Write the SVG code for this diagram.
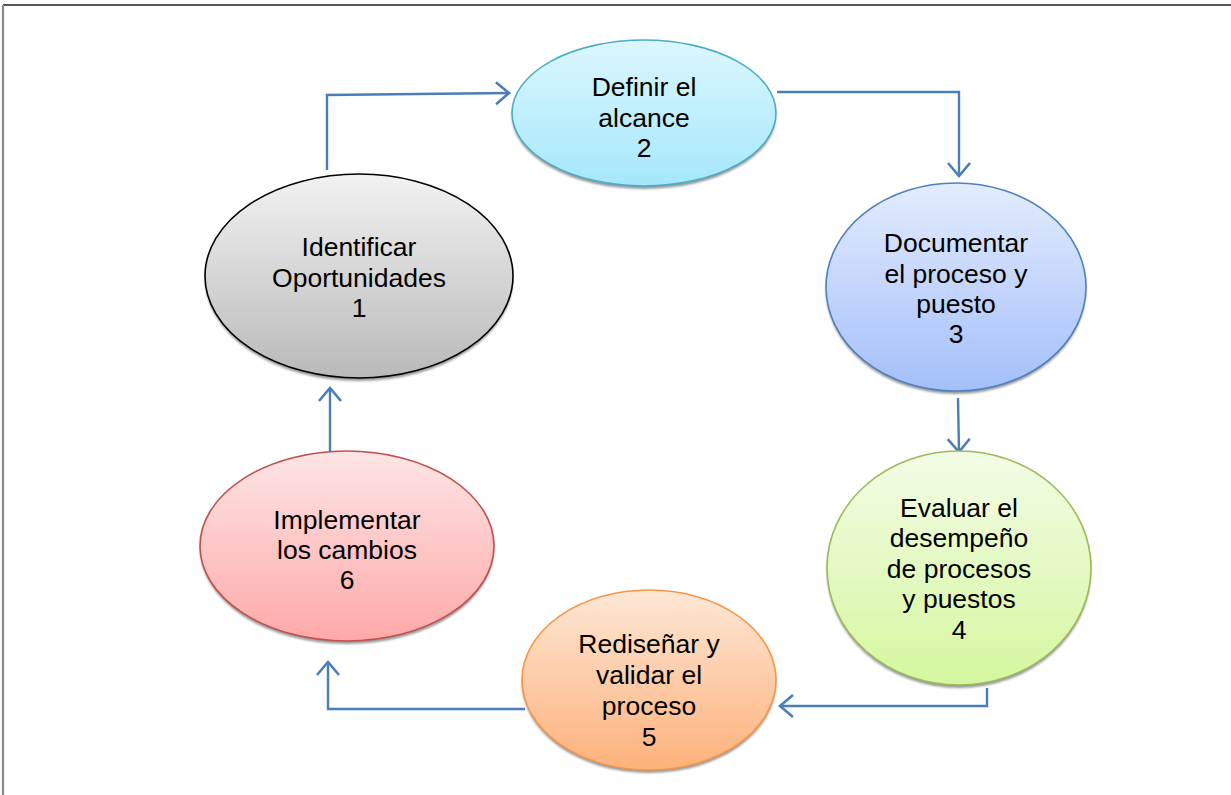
<svg xmlns="http://www.w3.org/2000/svg" width="1231" height="795" viewBox="0 0 1231 795">
  <defs>
    <linearGradient id="gGray" x1="0" y1="0" x2="0" y2="1">
      <stop offset="0" stop-color="#f2f2f2"/>
      <stop offset="1" stop-color="#b9b9b9"/>
    </linearGradient>
    <linearGradient id="gCyan" x1="0" y1="0" x2="0" y2="1">
      <stop offset="0" stop-color="#dcf7fe"/>
      <stop offset="1" stop-color="#a5e7fb"/>
    </linearGradient>
    <linearGradient id="gBlue" x1="0" y1="0" x2="0" y2="1">
      <stop offset="0" stop-color="#e3ecfd"/>
      <stop offset="1" stop-color="#a4bffa"/>
    </linearGradient>
    <linearGradient id="gGreen" x1="0" y1="0" x2="0" y2="1">
      <stop offset="0" stop-color="#f3fce6"/>
      <stop offset="1" stop-color="#d5f79f"/>
    </linearGradient>
    <linearGradient id="gOrange" x1="0" y1="0" x2="0" y2="1">
      <stop offset="0" stop-color="#fde7d6"/>
      <stop offset="1" stop-color="#fdb27b"/>
    </linearGradient>
    <linearGradient id="gRed" x1="0" y1="0" x2="0" y2="1">
      <stop offset="0" stop-color="#fde5e5"/>
      <stop offset="1" stop-color="#ffa9a9"/>
    </linearGradient>
    <filter id="soft" x="-10%" y="-10%" width="120%" height="130%">
      <feGaussianBlur stdDeviation="1.2"/>
    </filter>
    <marker id="arrow" markerUnits="userSpaceOnUse" markerWidth="18" markerHeight="26" viewBox="0 0 18 26" refX="15" refY="13" orient="auto">
      <path d="M2,2 L15,13 L2,24" fill="none" stroke="#4a7ebb" stroke-width="2.6"/>
    </marker>
  </defs>
  <style>
    .shadow { fill: #808080; opacity: 0.8; filter: url(#soft); }
    .label { font-family: "Liberation Sans", Arial, sans-serif; font-size: 26.5px; fill: #000; text-anchor: middle; }
    .conn { fill: none; stroke: #4a7ebb; stroke-width: 2.4; marker-end: url(#arrow); }
  </style>

  <!-- page frame -->
  <rect width="1231" height="795" fill="#fff"/>
  <line x1="3" y1="5" x2="1231" y2="5" stroke="#1e1e1e" stroke-width="1.6"/>
  <line x1="3" y1="5" x2="3" y2="795" stroke="#888" stroke-width="2.2"/>

  <!-- connectors -->
  <g id="connectors">
    <polyline class="conn" points="327,170 327,95 509,93"/>
    <polyline class="conn" points="777,92 959,92 959,176"/>
    <polyline class="conn" points="958,398 959,452"/>
    <polyline class="conn" points="987,688 987,706 780,706"/>
    <polyline class="conn" points="525,709 328,709 328,662"/>
    <polyline class="conn" points="330,459 330,388"/>
  </g>

  <g id="node1">
    <ellipse class="shadow" cx="359" cy="279" rx="154" ry="102"/>
    <ellipse cx="359" cy="276" rx="154" ry="102" fill="url(#gGray)" stroke="#000" stroke-width="1.6"/>
    <text class="label" x="359" y="256">Identificar</text>
    <text class="label" x="359" y="287">Oportunidades</text>
    <text class="label" x="359" y="317">1</text>
  </g>

  <g id="node2">
    <ellipse class="shadow" cx="644" cy="116" rx="132" ry="73"/>
    <ellipse cx="644" cy="113" rx="132" ry="73" fill="url(#gCyan)" stroke="#4bacc6" stroke-width="1.6"/>
    <text class="label" x="644" y="96">Definir el</text>
    <text class="label" x="644" y="127">alcance</text>
    <text class="label" x="644" y="157">2</text>
  </g>

  <g id="node3">
    <ellipse class="shadow" cx="956" cy="290" rx="130" ry="104"/>
    <ellipse cx="956" cy="287" rx="130" ry="104" fill="url(#gBlue)" stroke="#4f81bd" stroke-width="1.6"/>
    <text class="label" x="956" y="252">Documentar</text>
    <text class="label" x="956" y="283">el proceso y</text>
    <text class="label" x="956" y="313">puesto</text>
    <text class="label" x="956" y="343">3</text>
  </g>

  <g id="node4">
    <ellipse class="shadow" cx="959" cy="571" rx="132" ry="117"/>
    <ellipse cx="959" cy="568" rx="132" ry="117" fill="url(#gGreen)" stroke="#9bbb59" stroke-width="1.6"/>
    <text class="label" x="959" y="517">Evaluar el</text>
    <text class="label" x="959" y="547">desempeño</text>
    <text class="label" x="959" y="578">de procesos</text>
    <text class="label" x="959" y="608">y puestos</text>
    <text class="label" x="959" y="639">4</text>
  </g>

  <g id="node5">
    <ellipse class="shadow" cx="649" cy="683" rx="127" ry="90"/>
    <ellipse cx="649" cy="680" rx="127" ry="90" fill="url(#gOrange)" stroke="#f79646" stroke-width="1.6"/>
    <text class="label" x="649" y="653">Rediseñar y</text>
    <text class="label" x="649" y="684">validar el</text>
    <text class="label" x="649" y="715">proceso</text>
    <text class="label" x="649" y="746">5</text>
  </g>

  <g id="node6">
    <ellipse class="shadow" cx="347" cy="549" rx="147" ry="95"/>
    <ellipse cx="347" cy="546" rx="147" ry="95" fill="url(#gRed)" stroke="#c0504d" stroke-width="1.6"/>
    <text class="label" x="347" y="529">Implementar</text>
    <text class="label" x="347" y="559">los cambios</text>
    <text class="label" x="347" y="589">6</text>
  </g>
</svg>
